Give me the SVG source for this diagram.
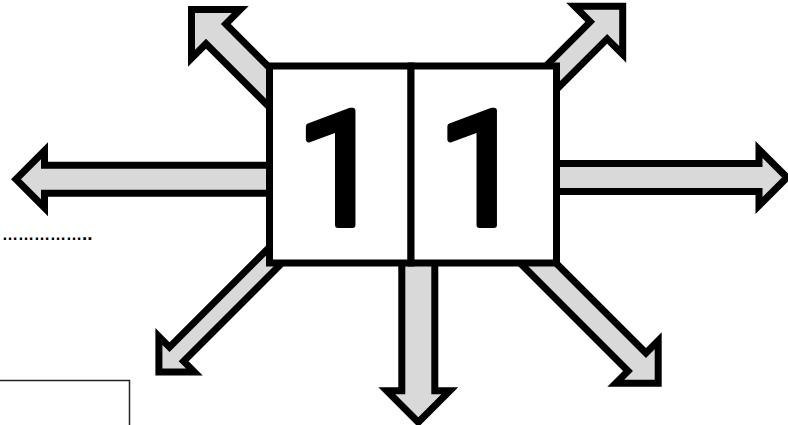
<svg xmlns="http://www.w3.org/2000/svg" width="788" height="425" viewBox="0 0 788 425">
<style>
.arr{fill:#d9d9d9;stroke:#000;stroke-width:7;stroke-linejoin:miter;stroke-miterlimit:10}
.box{fill:#fff;stroke:#000;stroke-width:7}
.num{font-family:Roboto,"Liberation Sans",sans-serif;font-weight:normal;font-size:160px;fill:#000;stroke:#000;stroke-width:6;stroke-linejoin:round;text-anchor:middle}
.dots{font-family:"Liberation Sans",Arial,sans-serif;font-size:16px;font-weight:bold;fill:#000}
</style>
<rect x="-10" y="380.5" width="139.5" height="60" fill="none" stroke="#222" stroke-width="1.5"/>
<text class="dots" x="2" y="240">……………<tspan font-size="19">..</tspan></text>
<g id="connectors">
<path class="arr" transform="translate(16,179.3) rotate(180)" d="M-284,-14 L-28.5,-14 L-28.5,-28.5 L0,0 L-28.5,28.5 L-28.5,14 L-284,14 Z"/>
<path class="arr" transform="translate(787,177.5)" d="M-257,-14 L-28,-14 L-28,-28 L0,0 L-28,28 L-28,14 L-257,14 Z"/>
<path class="arr" transform="translate(191.5,9.5) rotate(225)" d="M-153,-14 L-34.5,-14 L-34.5,-34.5 L0,0 L-34.5,34.5 L-34.5,14 L-153,14 Z"/>
<path class="arr" transform="translate(622.7,6.3) rotate(-45)" d="M-145,-12 L-34,-12 L-34,-34 L0,0 L-34,34 L-34,12 L-145,12 Z"/>
<path class="arr" transform="translate(658.2,383.2) rotate(45)" d="M-224,-12.7 L-30,-12.7 L-30,-30 L0,0 L-30,30 L-30,12.7 L-224,12.7 Z"/>
<path class="arr" transform="translate(158.9,371.9) rotate(135)" d="M-228,-10 L-25,-10 L-25,-25 L0,0 L-25,25 L-25,10 L-228,10 Z"/>
<path class="arr" transform="translate(418.3,422.3) rotate(90)" d="M-192,-16.5 L-31.5,-16.5 L-31.5,-31.5 L0,0 L-31.5,31.5 L-31.5,16.5 L-192,16.5 Z"/>
</g>
<g id="box-left">
<rect class="box" x="269.5" y="66" width="141.5" height="197"/>
<text class="num" x="340.5" y="225">1</text>
</g>
<g id="box-right">
<rect class="box" x="411" y="66" width="145.5" height="197"/>
<text class="num" x="482" y="225">1</text>
</g>
</svg>
